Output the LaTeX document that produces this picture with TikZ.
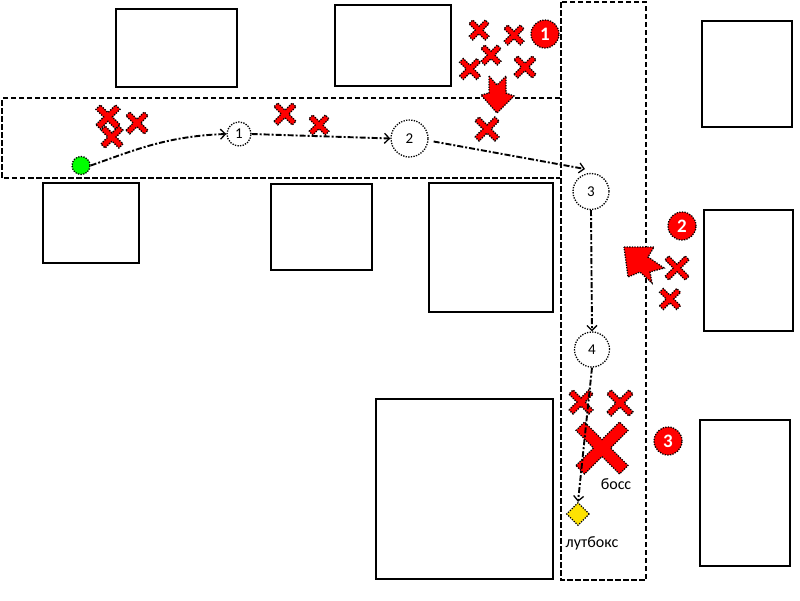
\documentclass[tikz,border=0pt]{standalone}
\usepackage{fontspec}
\setmainfont{Carlito}
\usetikzlibrary{arrows.meta,shapes.geometric}
\tikzset{
  building/.style={draw=black,line width=1.6pt,fill=white},
  zone/.style={draw=black,line width=1.6pt,dash pattern=on 5.5pt off 2.5pt},
  dotb/.style={draw=black,line width=1.3pt,dash pattern=on 1.3pt off 1.3pt},
  mark shape/.style={dotb,fill=red},
  waypoint/.style={circle,dotb,fill=white,inner sep=0pt,font=\fontsize{15}{17}\selectfont,text=black},
  badge/.style={circle,dotb,fill=red,minimum size=28pt,inner sep=0pt,text=white,font=\fontsize{19}{21}\selectfont\bfseries},
  route/.style={draw=black,line width=1.9pt,dash pattern=on 6pt off 2pt on 2pt off 2pt,-{Straight Barb[length=5pt,width=10pt,line width=1.3pt]}},
  lbl/.style={inner sep=0pt,font=\fontsize{16}{18}\selectfont,text=black}
}
% centre x, centre y, half extent of the tips, half width of the bar
\newcommand{\crossmark}[4]{%
  \begin{scope}[shift={(#1,#2)},rotate=45]
    \pgfmathsetmacro{\armL}{#3*1.414-#4}
    \draw[mark shape] (-\armL,-#4) -- (-#4,-#4) -- (-#4,-\armL) -- (#4,-\armL) -- (#4,-#4) -- (\armL,-#4)
      -- (\armL,#4) -- (#4,#4) -- (#4,\armL) -- (-#4,\armL) -- (-#4,#4) -- (-\armL,#4) -- cycle;
  \end{scope}}
\begin{document}
\begin{tikzpicture}[x=1pt,y=-1pt]
\useasboundingbox[fill=white] (0,0) rectangle (800,600);
% buildings
\draw[building] (116,9) rectangle (237,87);
\draw[building] (335,5) rectangle (451,86);
\draw[building] (702,21) rectangle (792,127);
\draw[building] (43,183) rectangle (139,263);
\draw[building] (271,184) rectangle (372,270);
\draw[building] (429,183) rectangle (553,312);
\draw[building] (704,210) rectangle (793,331);
\draw[building] (376,399) rectangle (553,579);
\draw[building] (700,420) rectangle (790,566);
% zones
\draw[zone] (560,98) -- (2,98) -- (2,178) -- (560,178);
\draw[zone] (561,2) rectangle (646,580);
% enemies
\crossmark{479}{30}{10}{2.7}
\crossmark{514}{35}{10}{2.7}
\crossmark{491}{55}{10}{2.7}
\crossmark{470}{69}{10.5}{2.7}
\crossmark{525}{67}{11}{2.7}
\crossmark{487}{129}{12}{2.9}
\crossmark{108}{117}{12}{3.1}
\crossmark{112}{137}{11}{2.9}
\crossmark{137}{123}{11}{2.7}
\crossmark{285}{114}{11}{2.7}
\crossmark{319}{125}{10}{2.7}
\crossmark{677}{268}{12}{2.7}
\crossmark{670}{299}{10.5}{2.7}
\crossmark{581}{402}{12}{2.9}
\crossmark{620}{403}{13}{2.9}
\crossmark{602}{448}{26}{6}
% attack arrows
\draw[mark shape] (489,76) -- (497,85) -- (506,76) -- (506,93) -- (514,96) -- (497,113) -- (481,95) -- (489,93) -- cycle;
\draw[mark shape] (624,247) -- (654,247) -- (648,257) -- (664,268) -- (650,272) -- (652,283) -- (640,272) -- (628,277) -- cycle;
% nodes
\node[circle,dotb,fill=green,minimum size=18pt,inner sep=0pt] (start) at (81,165.5) {};
\node[waypoint,minimum size=24pt] (w1) at (239,134) {1};
\node[waypoint,minimum size=37pt] (w2) at (409.5,138.5) {2};
\node[waypoint,minimum size=36pt] (w3) at (591,191.5) {3};
\node[waypoint,minimum size=35pt] (w4) at (592,349.5) {4};
\node[diamond,aspect=1,dotb,fill=yellow!85!orange,minimum size=23pt,inner sep=0pt] (loot) at (578,514) {};
\node[badge] (b1) at (545,34) {1};
\node[badge] (b2) at (682,226) {2};
\node[badge] (b3) at (668,441) {3};
\node[lbl] (boss) at (616,484) {босс};
\node[lbl] (lootlbl) at (592,543) {лутбокс};
% route
\draw[route] (start.east) .. controls (130,152) and (165,136) .. (w1.west);
\draw[route] (w1.east) -- (w2.west);
\coordinate (p3) at (585,169);
\draw[route] (w2.east) ++(5,3) -- (p3);
\draw[route] (w3.south) -- (w4.north);
\draw[route] (w4.south) -- (loot.north);
\end{tikzpicture}
\end{document}
